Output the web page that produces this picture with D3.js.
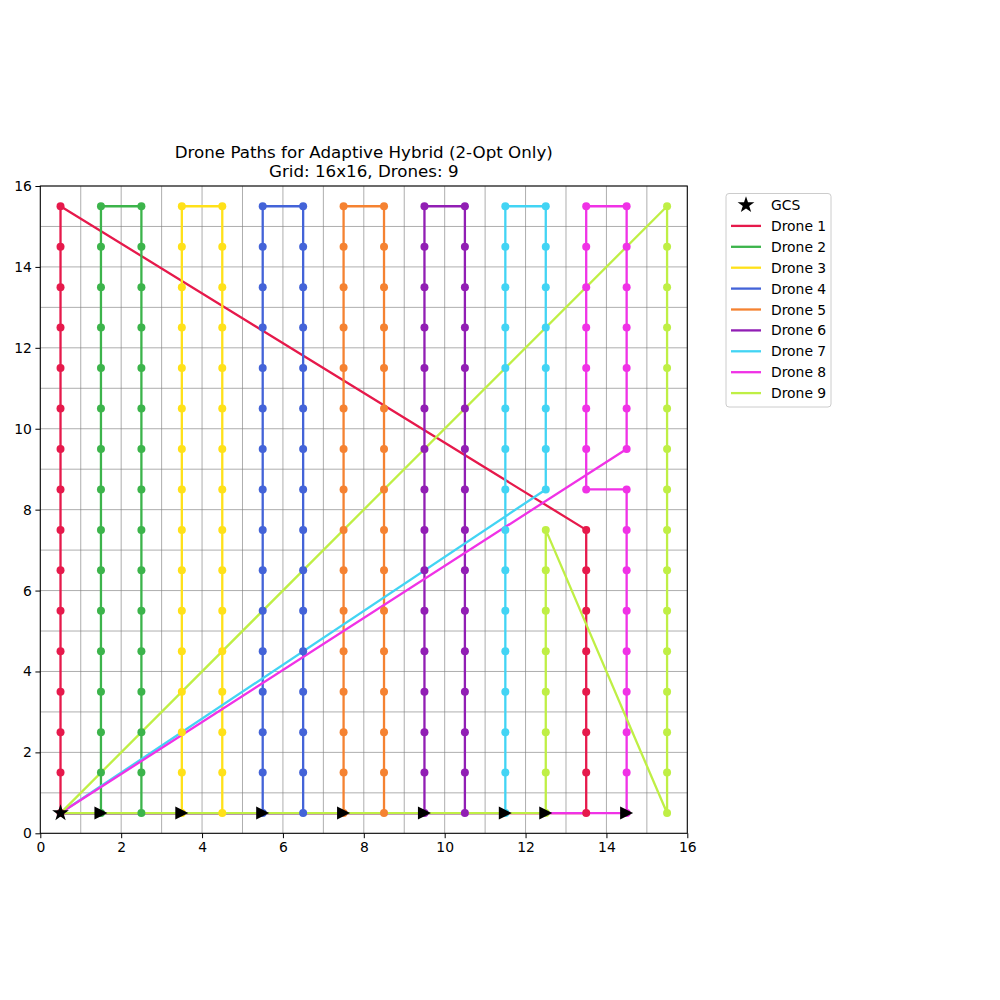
<!DOCTYPE html>
<html><head><meta charset="utf-8">
<script src="https://cdn.jsdelivr.net/npm/d3@7"></script>
<style>body{margin:0;background:#fff;} text{font-family:"DejaVu Sans",sans-serif;}</style>
</head><body>
<svg id="chart" width="1000" height="1000"></svg>
<script>
// ---- data ----
const titleLines = ["Drone Paths for Adaptive Hybrid (2-Opt Only)", "Grid: 16x16, Drones: 9"];
const gridSize = 16;
const xTicks = [0, 2, 4, 6, 8, 10, 12, 14, 16];
const yTicks = [0, 2, 4, 6, 8, 10, 12, 14, 16];
const gcs = [0.5, 0.5];
const droneNames = ["Drone 1","Drone 2","Drone 3","Drone 4","Drone 5","Drone 6","Drone 7","Drone 8","Drone 9"];
const droneColors = ["#e6194b","#3cb44b","#ffe119","#4363d8","#f58231","#911eb4","#42d4f4","#f032e6","#bfef45"];
// sweep legs of each drone: [column x, start y, end y] (visited cell centres, step 1)
const drone1Legs = [[0.5, 0.5, 15.5], [13.5, 7.5, 0.5]];
const drone2Legs = [[1.5, 0.5, 15.5], [2.5, 15.5, 0.5]];
const drone3Legs = [[3.5, 0.5, 15.5], [4.5, 15.5, 0.5]];
const drone4Legs = [[5.5, 0.5, 15.5], [6.5, 15.5, 0.5]];
const drone5Legs = [[7.5, 0.5, 15.5], [8.5, 15.5, 0.5]];
const drone6Legs = [[9.5, 0.5, 15.5], [10.5, 15.5, 0.5]];
const drone7Legs = [[11.5, 0.5, 15.5], [12.5, 15.5, 8.5]];
const drone8Legs = [[14.5, 0.5, 8.5], [13.5, 8.5, 15.5], [14.5, 15.5, 9.5]];
const drone9Legs = [[12.5, 0.5, 7.5], [15.5, 0.5, 15.5]];
const droneLegs = [drone1Legs, drone2Legs, drone3Legs, drone4Legs, drone5Legs, drone6Legs, drone7Legs, drone8Legs, drone9Legs];
const showStartArrow = [false, true, true, true, true, true, true, true, true];

// ---- layout ----
const svg = d3.select("#chart");
const L = 40.3, R = 687.3, T = 186, B = 833.3;
const x = d3.scaleLinear().domain([0, gridSize]).range([L, R]);
const y = d3.scaleLinear().domain([0, gridSize]).range([B, T]);

// cells of each drone
const cellsOf = legs => legs.flatMap(([cx, y0, y1]) => {
  const s = y1 >= y0 ? 1 : -1;
  const n = Math.abs(y1 - y0);
  return d3.range(0, n + 1).map(i => [cx, y0 + s * i]);
});
const drones = droneLegs.map((legs, i) => {
  const cells = cellsOf(legs);
  return {name: droneNames[i], color: droneColors[i], cells, path: [gcs, ...cells, gcs], arrow: showStartArrow[i]};
});

// grid
const gridVals = d3.range(0, gridSize + 1);
const g = svg.append("g");
g.selectAll("line.gx").data(gridVals).join("line")
  .attr("x1", d => x(d)).attr("x2", d => x(d)).attr("y1", T).attr("y2", B)
  .attr("stroke", "#808080").attr("stroke-opacity", 0.8).attr("stroke-width", 0.8);
g.selectAll("line.gy").data(gridVals).join("line")
  .attr("y1", d => y(d)).attr("y2", d => y(d)).attr("x1", L).attr("x2", R)
  .attr("stroke", "#808080").attr("stroke-opacity", 0.8).attr("stroke-width", 0.8);

// paths
const line = d3.line().x(d => x(d[0])).y(d => y(d[1]));
svg.append("g").selectAll("path").data(drones).join("path")
  .attr("d", d => line(d.path)).attr("fill", "none")
  .attr("stroke", d => d.color).attr("stroke-width", 2.3).attr("stroke-linejoin", "round");

// dots
drones.forEach(d => {
  svg.append("g").selectAll("circle").data(d.cells).join("circle")
    .attr("cx", c => x(c[0])).attr("cy", c => y(c[1])).attr("r", 4).attr("fill", d.color);
});

// start arrows
const a = 6.5;
svg.append("g").selectAll("path").data(drones.filter(d => d.arrow)).join("path")
  .attr("d", `M${a},0L${-a},${-a}L${-a},${a}Z`)
  .attr("transform", d => `translate(${x(d.cells[0][0])},${y(d.cells[0][1])})`)
  .attr("fill", "#000");

// star
function starPath(Ro, Ri) {
  let p = "";
  for (let k = 0; k < 10; k++) {
    const r = k % 2 === 0 ? Ro : Ri;
    const ang = -Math.PI / 2 + k * Math.PI / 5;
    p += (k === 0 ? "M" : "L") + (r * Math.cos(ang)).toFixed(2) + "," + (r * Math.sin(ang)).toFixed(2);
  }
  return p + "Z";
}
svg.append("path").attr("d", starPath(8.8, 3.4))
  .attr("transform", `translate(${x(gcs[0])},${y(gcs[1])})`).attr("fill", "#000");

// axes
const xAxis = svg.append("g").attr("transform", `translate(0,${B})`)
  .call(d3.axisBottom(x).tickValues(xTicks).tickSize(4.9).tickPadding(3.5).tickFormat(d3.format("d")));
const yAxis = svg.append("g").attr("transform", `translate(${L},0)`)
  .call(d3.axisLeft(y).tickValues(yTicks).tickSize(4.9).tickPadding(3.5).tickFormat(d3.format("d")));
[xAxis, yAxis].forEach(ax => {
  ax.select(".domain").remove();
  ax.selectAll("text").attr("font-size", "13.9px").attr("font-family", "DejaVu Sans").attr("fill", "#000");
  ax.selectAll("line").attr("stroke", "#000").attr("stroke-width", 1);
});
svg.append("rect").attr("x", L).attr("y", T).attr("width", R - L).attr("height", B - T)
  .attr("fill", "none").attr("stroke", "#000").attr("stroke-width", 1);

// title
svg.append("text").attr("x", (L + R) / 2).attr("y", 157.5).attr("text-anchor", "middle")
  .attr("font-size", "16.7px").text(titleLines[0]);
svg.append("text").attr("x", (L + R) / 2).attr("y", 177).attr("text-anchor", "middle")
  .attr("font-size", "16.7px").text(titleLines[1]);

// legend
const lg = svg.append("g");
lg.append("rect").attr("x", 726).attr("y", 193.5).attr("width", 105).attr("height", 213.5)
  .attr("rx", 3).attr("fill", "#fff").attr("fill-opacity", 0.8).attr("stroke", "#ccc").attr("stroke-width", 1);
const ly0 = 205, ldy = 20.9;
lg.append("path").attr("d", starPath(8.8, 3.4)).attr("transform", `translate(746,${ly0})`).attr("fill", "#000");
lg.append("text").attr("x", 771).attr("y", ly0).attr("dy", "0.36em").attr("font-size", "13.9px").text("GCS");
drones.forEach((d, i) => {
  const yy = ly0 + (i + 1) * ldy;
  lg.append("line").attr("x1", 731).attr("x2", 761).attr("y1", yy).attr("y2", yy)
    .attr("stroke", d.color).attr("stroke-width", 2.3);
  lg.append("text").attr("x", 771).attr("y", yy).attr("dy", "0.36em").attr("font-size", "13.9px").text(d.name);
});
</script>
</body></html>
